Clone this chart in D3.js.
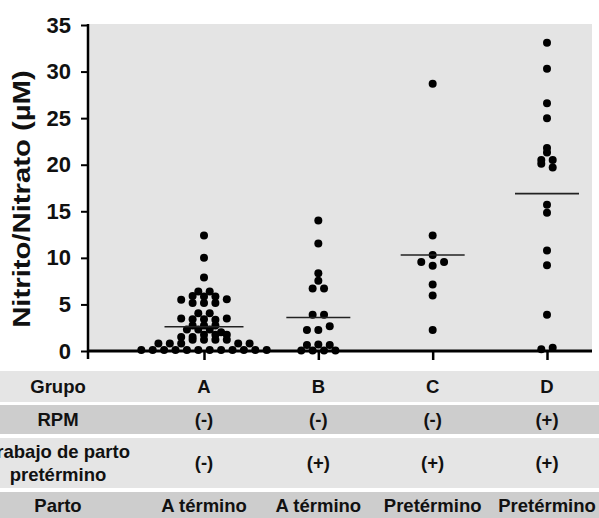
<!DOCTYPE html>
<html><head><meta charset="utf-8">
<script src="https://cdn.jsdelivr.net/npm/d3@7"></script>
<style>
body{margin:0;background:#fff}
svg{display:block;font-family:"Liberation Sans",Arial,sans-serif;font-weight:bold}
</style>
</head><body>
<svg id="c" width="599" height="518"></svg>
<script>
// ---------- data ----------
const groups = ["A", "B", "C", "D"];
const valuesA = [0.1,0.1,0.1,0.1,0.1,0.1,0.1,0.1,0.1,0.1,0.1,0.1,
  0.8,0.8,0.8,1.2,1.2,1.2,1.2,0.8,0.8,
  1.5,1.5,1.75,1.75,1.75,
  2.3,2.3,2.3,2.0,
  2.75,2.75,2.75,
  3.5,3.4,3.4,3.35,3.5,
  4.05,4.05,
  5.5,5.15,5.15,5.15,5.55,
  5.9,5.85,5.85,
  6.4,6.4,
  7.9,10.0,12.4];
const valuesB = [0.05,0.05,0.05,0.05, 0.65,0.7,0.65, 2.25,2.25,2.65, 3.9,3.9, 6.7,6.7, 7.55, 8.35, 11.55, 14.0];
const valuesC = [2.25, 5.95, 7.15, 9.55, 9.15, 9.55, 10.3, 12.4, 28.7];
const valuesD = [0.2, 0.35, 3.9, 9.2, 10.8, 14.85, 15.7, 20.1, 19.7, 20.5, 20.5, 21.3, 21.8, 25.0, 26.6, 30.3, 33.1];
const meanLine = [2.6, 3.6, 10.3, 16.9];
const yTicks = [0, 5, 10, 15, 20, 25, 30, 35];
const yTitle = "Nitrito/Nitrato (µM)";
const rowHeaders = ["Grupo", "RPM", ["Trabajo de parto", "pretérmino"], "Parto"];
const rowGrupo = ["A", "B", "C", "D"];
const rowRPM = ["(-)", "(-)", "(-)", "(+)"];
const rowTrabajo = ["(-)", "(+)", "(+)", "(+)"];
const rowParto = ["A término", "A término", "Pretérmino", "Pretérmino"];

// ---------- layout ----------
const svg = d3.select("#c");
const plot = {left: 89, right: 592, top: 24, bottom: 351};
const x = d3.scalePoint().domain(groups).range([204, 547]);
const y = d3.scaleLinear().domain([0, 35]).range([351, 25]);
const ink = "#000";

// plot background
svg.append("rect").attr("x", plot.left).attr("y", plot.top)
  .attr("width", plot.right - plot.left).attr("height", plot.bottom - plot.top)
  .attr("fill", "#e4e4e4");

// column-scatter layout: points close in value share a row, spread side by side
function swarm(vals, binSize, step) {
  const idx = vals.map((v, i) => i).sort((a, b) => vals[a] - vals[b] || a - b);
  const rows = []; let cur = null;
  idx.forEach(i => {
    if (!cur || vals[i] - cur.start > binSize + 1e-9) { cur = {start: vals[i], items: []}; rows.push(cur); }
    cur.items.push(i);
  });
  const out = [];
  rows.forEach(r => {
    r.items.sort((a, b) => a - b);
    const n = r.items.length;
    r.items.forEach((i, k) => out.push({v: vals[i], off: (k - (n - 1) / 2) * step}));
  });
  return out;
}

const allValues = [valuesA, valuesB, valuesC, valuesD];
const dotsG = svg.append("g");
groups.forEach((g, gi) => {
  const pts = swarm(allValues[gi], 0.45, 11.4);
  dotsG.selectAll(null).data(pts).enter().append("circle")
    .attr("cx", d => x(g) + d.off)
    .attr("cy", d => y(d.v))
    .attr("r", 4)
    .attr("fill", ink);
});

// mean lines
const halfW = g => g === "A" ? 39.5 : 32;
svg.append("g").selectAll("line").data(groups).enter().append("line")
  .attr("x1", g => x(g) - halfW(g)).attr("x2", g => x(g) + halfW(g))
  .attr("y1", (g, i) => y(meanLine[i])).attr("y2", (g, i) => y(meanLine[i]))
  .attr("stroke", "#222").attr("stroke-width", 1.6);

// y axis
const yAxis = svg.append("g").attr("transform", `translate(${plot.left - 1},0)`)
  .call(d3.axisLeft(y).tickValues(yTicks).tickSize(7).tickSizeOuter(0).tickPadding(10));
yAxis.select(".domain").remove();
yAxis.selectAll(".tick line").attr("stroke", ink).attr("stroke-width", 2);
yAxis.selectAll(".tick text").attr("font-size", 22).attr("font-weight", "bold")
  .attr("fill", "#111").attr("font-family", '"Liberation Sans",Arial,sans-serif');
svg.append("line").attr("x1", plot.left - 1).attr("x2", plot.left - 1)
  .attr("y1", y(35) - 1).attr("y2", 359).attr("stroke", ink).attr("stroke-width", 2.5);

// x axis
const xAxis = svg.append("g").attr("transform", `translate(0,${plot.bottom})`)
  .call(d3.axisBottom(x).tickSize(9).tickSizeOuter(0).tickFormat(""));
xAxis.select(".domain").remove();
xAxis.selectAll(".tick line").attr("stroke", ink).attr("stroke-width", 2.5);
svg.append("line").attr("x1", plot.left - 2).attr("x2", plot.right)
  .attr("y1", plot.bottom).attr("y2", plot.bottom).attr("stroke", ink).attr("stroke-width", 3);

// y title
svg.append("text")
  .attr("transform", `translate(30,199) rotate(-90) scale(1.22,1)`)
  .attr("text-anchor", "middle").attr("font-size", 24).attr("fill", "#111")
  .text(yTitle);

// ---------- table ----------
const tableRows = [
  {y0: 371, y1: 402, fill: "#e5e5e5", cells: rowGrupo},
  {y0: 405, y1: 434, fill: "#cdcdcd", cells: rowRPM},
  {y0: 438, y1: 488, fill: "#e5e5e5", cells: rowTrabajo},
  {y0: 492, y1: 518, fill: "#cdcdcd", cells: rowParto}
];
const labelX = 58;
const tg = svg.append("g").attr("font-size", 18.5).attr("fill", "#111");
tableRows.forEach((r, ri) => {
  tg.append("rect").attr("x", 0).attr("y", r.y0).attr("width", 599).attr("height", r.y1 - r.y0).attr("fill", r.fill);
  const cy = ri === 3 ? 506 : (r.y0 + r.y1) / 2;
  const head = rowHeaders[ri];
  if (Array.isArray(head)) {
    head.forEach((t, k) => tg.append("text").attr("x", labelX).attr("y", cy + (k - 0.5) * 23)
      .attr("dy", "0.35em").attr("text-anchor", "middle").text(t));
  } else {
    tg.append("text").attr("x", labelX).attr("y", cy).attr("dy", "0.35em")
      .attr("text-anchor", "middle").text(head);
  }
  tg.selectAll(null).data(r.cells).enter().append("text")
    .attr("x", (d, i) => x(groups[i])).attr("y", cy).attr("dy", "0.35em")
    .attr("text-anchor", "middle").text(d => d);
});
</script>
</body></html>
